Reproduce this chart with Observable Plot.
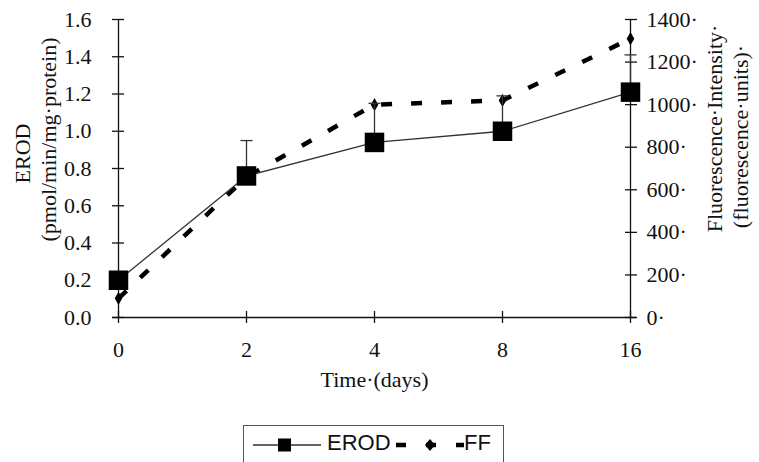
<!DOCTYPE html>
<html>
<head>
<meta charset="utf-8">
<script src="https://cdn.jsdelivr.net/npm/d3@7"></script>
<script src="https://cdn.jsdelivr.net/npm/@observablehq/plot@0.6"></script>
<style>
  body { margin: 0; background: #fff; width: 759px; height: 462px; overflow: hidden; position: relative; }
  #chart { position: absolute; left: 0; top: 0; }
  #legend { position: absolute; left: 243px; top: 425px; width: 261px; height: 45px; border: 1px solid #555; box-sizing: border-box; background: #fff;
            font-family: "Liberation Sans", Arial, sans-serif; font-size: 22px; color: #111; }
  #legend svg { position: absolute; left: 0; top: 0; }
  #legend span { position: absolute; top: 4px; }
</style>
</head>
<body>
<div id="chart"></div>
<div id="legend"></div>
<script>
const days = ["0", "2", "4", "8", "16"];
const erod = [0.20, 0.76, 0.94, 1.00, 1.21];
const erodErr = [0, 0.19, 0.21, 0.19, 0.20];
const ff = [90, 660, 1000, 1020, 1310];
const leftTicks = [0, 0.2, 0.4, 0.6, 0.8, 1.0, 1.2, 1.4, 1.6];
const rightTicks = [0, 200, 400, 600, 800, 1000, 1200, 1400];
const ffMax = 1400, erodMax = 1.6;
const k = ffMax / erodMax;

const rows = days.map((d, i) => ({day: d, erod: erod[i], err: erodErr[i], ff: ff[i] / k}));
const errRows = rows.filter(r => r.err > 0);

const serif = "'Liberation Serif', 'Times New Roman', serif";
const fs = 22;
const capSymbol = {draw(context) { context.moveTo(-6, 0); context.lineTo(6, 0); }};

const chart = Plot.plot({
  width: 759,
  height: 400,
  marginLeft: 118,
  marginRight: 129,
  marginTop: 19,
  marginBottom: 83,
  style: {fontFamily: serif, fontSize: fs + "px", color: "#111", background: "transparent", overflow: "visible"},
  x: {type: "point", domain: days, padding: 0},
  y: {domain: [0, erodMax]},
  marks: [
    // axis lines
    Plot.ruleY([0], {stroke: "#111", strokeWidth: 1.3, insetLeft: -6, insetRight: -6}),
    Plot.ruleX(["0"], {stroke: "#111", strokeWidth: 1.3}),
    Plot.ruleX(["16"], {stroke: "#111", strokeWidth: 1.3}),
    // crossing tick marks
    Plot.axisY({ticks: leftTicks, tickSize: 12, dx: 6, tickFormat: () => "", label: null, stroke: "#111", strokeWidth: 1.3}),
    Plot.axisY({ticks: leftTicks, tickSize: 0, tickPadding: 27, tickFormat: d3.format(".1f"), label: null, fontSize: fs}),
    Plot.axisY({anchor: "right", ticks: rightTicks.map(v => v / k), tickSize: 12, dx: -6, tickFormat: () => "", label: null, stroke: "#111", strokeWidth: 1.3}),
    Plot.axisY({anchor: "right", ticks: rightTicks.map(v => v / k), tickSize: 0, tickPadding: 16, tickFormat: d => Math.round(d * k) + "·", label: null, fontSize: fs}),
    Plot.axisX({tickSize: 12, dy: -6, tickFormat: () => "", label: null, stroke: "#111", strokeWidth: 1.3}),
    Plot.axisX({tickSize: 0, tickPadding: 24, label: null, fontSize: fs}),
    // axis titles
    Plot.text(["Time·(days)"], {frameAnchor: "bottom", dy: 69, fontSize: fs, fill: "#111"}),
    Plot.text(["EROD"], {frameAnchor: "left", textAnchor: "middle", lineAnchor: "middle", rotate: -90, dx: -96, dy: -15, fontSize: fs, fill: "#111"}),
    Plot.text(["(pmol/min/mg·protein)"], {frameAnchor: "left", textAnchor: "middle", lineAnchor: "middle", rotate: -90, dx: -70, dy: -29, fontSize: fs, fill: "#111"}),
    Plot.text(["Fluorescence·Intensity·"], {frameAnchor: "right", textAnchor: "middle", lineAnchor: "middle", rotate: -90, dx: 84, dy: -40, fontSize: fs, fill: "#111"}),
    Plot.text(["(fluorescence·units)·"], {frameAnchor: "right", textAnchor: "middle", lineAnchor: "middle", rotate: -90, dx: 110, dy: -32, fontSize: fs, fill: "#111"}),
    // FF dashed line
    Plot.line(rows, {x: "day", y: "ff", stroke: "#000", strokeWidth: 4.5, strokeDasharray: "11,19", strokeLinecap: "butt"}),
    Plot.dot(rows, {x: "day", y: "ff", symbol: "diamond", r: 4, fill: "#000", stroke: "none"}),
    // EROD error bars
    Plot.ruleX(errRows, {x: "day", y1: "erod", y2: d => d.erod + d.err, stroke: "#333", strokeWidth: 1.3}),
    Plot.dot(errRows, {x: "day", y: d => d.erod + d.err, symbol: capSymbol, fill: "none", stroke: "#333", strokeWidth: 1.3}),
    // EROD line and squares
    Plot.line(rows, {x: "day", y: "erod", stroke: "#333", strokeWidth: 1.3}),
    Plot.dot(rows, {x: "day", y: "erod", symbol: "square", r: 11, fill: "#000", stroke: "none"})
  ]
});
document.getElementById("chart").appendChild(chart);

// legend
const lg = document.getElementById("legend");
lg.innerHTML = `
<svg width="261" height="45">
  <line x1="9" y1="19" x2="77" y2="19" stroke="#333" stroke-width="1.3"/>
  <rect x="34" y="12.5" width="13" height="13" fill="#000"/>
  <line x1="152" y1="19" x2="220" y2="19" stroke="#000" stroke-width="4.5" stroke-dasharray="10,20"/>
  <path d="M186,13 L191,19 L186,25 L181,19 Z" fill="#000"/>
</svg>
<span style="left:83px">EROD</span>
<span style="left:220px">FF</span>`;
</script>
</body>
</html>
